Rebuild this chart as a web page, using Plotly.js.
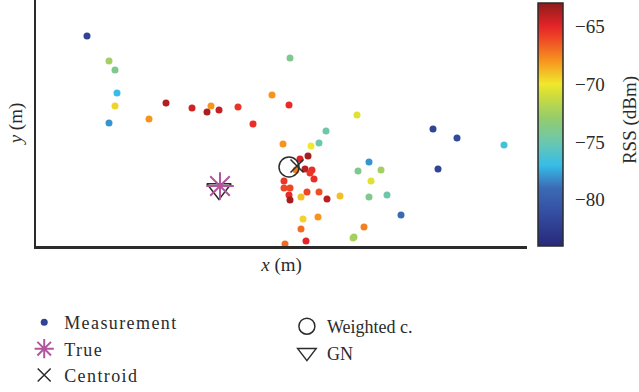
<!DOCTYPE html>
<html>
<head>
<meta charset="utf-8">
<script src="https://cdn.plot.ly/plotly-3.0.1.min.js"></script>
<style>html,body{margin:0;padding:0;background:#fff;}#chart{width:639px;height:392px;}
.legendtext{letter-spacing:1.4px;}</style>
</head>
<body>
<div id="chart"></div>
<script>
// Measurement positions (m) and received signal strength (dBm)
var measX = [5.1, 7.3, 7.9, 8.1, 7.9, 7.3, 11.3, 13.0, 15.6, 17.5, 17.1, 18.3, 20.2, 23.6, 21.7, 25.4, 25.3, 32.1, 29.0, 39.7,
             42.1, 46.8, 24.7, 27.5, 28.3, 26.4, 27.2, 26.9, 27.6, 27.4, 27.8, 26.0, 24.8, 24.8, 25.4, 25.3, 25.4, 26.5, 27.1, 28.3,
             29.1, 30.4, 33.3, 32.2, 34.5, 33.5, 40.2, 33.3, 35.1, 36.5, 26.7, 28.2, 26.5, 32.8, 31.7, 31.8, 24.9, 27.0];
var measY = [21.0, 18.5, 17.6, 15.3, 14.0, 12.3, 12.7, 14.3, 13.8, 14.0, 13.4, 13.6, 13.9, 15.1, 12.2, 18.8, 14.1, 13.1, 11.5, 11.7,
             10.8, 10.1, 10.2, 10.0, 10.3, 8.7, 9.0, 7.7, 7.6, 7.3, 6.7, 7.6, 6.5, 5.8, 5.8, 5.1, 4.6, 4.9, 5.4, 5.4,
             4.7, 5.0, 8.4, 7.5, 7.6, 6.5, 7.7, 4.9, 5.1, 3.1, 2.7, 2.9, 1.7, 1.9, 0.8, 0.9, 0.2, 0.5];
var measRSS = [-82, -72.5, -74, -77, -69.5, -78, -68, -63.8, -64.5, -68, -63.7, -64.2, -65.5, -68, -65.3, -74, -65.2, -70.5, -74.8, -82,
               -81.5, -76.5, -68, -70, -75, -64.8, -63.5, -64, -65.3, -65.5, -65.3, -67.5, -65.5, -66, -66, -65.2, -63.5, -69, -66, -66.2,
               -64, -69, -78, -74, -72.5, -70.5, -82, -74, -74.8, -79, -69.5, -68, -67, -67.5, -72, -72.5, -67, -65];

// Position estimates (m)
var trueX = [18.4], trueY = [6.0];
var centroidX = [26.1], centroidY = [8.0];
var weightedX = [25.3], weightedY = [7.9];
var gnX = [18.3], gnY = [5.7];

// Colour scale (RSS, dBm)
var rssMin = -84, rssMax = -63;
var rssTicks = [-65, -70, -75, -80];
var rssTitle = 'RSS (dBm)';
var scaleStops = [0, 0.143, 0.238, 0.333, 0.429, 0.524, 0.619, 0.667, 0.762, 0.857, 0.905, 1];
var scaleColors = ['#28287a', '#3550a3', '#3b6ab4', '#36bde8', '#6cc7ae', '#93cc6e', '#cfdc3c', '#f0e82c', '#f7941e', '#ee4525', '#e52427', '#8e1b1c'];
var colorscale = scaleStops.map(function (s, i) { return [s, scaleColors[i]]; });

var serif = 'Liberation Serif, Times New Roman, serif';
var ink = '#2b2b2b';

var traces = [
  {
    type: 'scatter', mode: 'markers', name: 'Measurement', legend: 'legend', legendrank: 1,
    x: measX, y: measY,
    marker: {
      size: 7, color: measRSS, cmin: rssMin, cmax: rssMax, colorscale: colorscale, showscale: true,
      colorbar: {
        thickness: 25, len: 243, lenmode: 'pixels', x: 1.0224, xanchor: 'left', xpad: 0,
        y: 0, yanchor: 'bottom', ypad: 0,
        outlinewidth: 1.5, outlinecolor: ink,
        ticks: 'outside', ticklen: 8, tickwidth: 1, tickcolor: 'rgba(0,0,0,0)',
        tickvals: rssTicks, tickfont: {family: serif, size: 19, color: ink}
      }
    }
  },
  {
    type: 'scatter', mode: 'markers', name: 'GN', legend: 'legend2', legendrank: 2,
    x: gnX, y: gnY,
    marker: {symbol: 'triangle-down-open', size: 21, color: ink, line: {width: 1.5, color: ink}}
  },
  {
    type: 'scatter', mode: 'markers', name: 'True', legend: 'legend', legendrank: 2,
    x: trueX, y: trueY,
    marker: {symbol: 'asterisk-open', size: 23, color: '#b4549f', line: {width: 2, color: '#b4549f'}}
  },
  {
    type: 'scatter', mode: 'markers', name: 'Weighted c.', legend: 'legend2', legendrank: 1,
    x: weightedX, y: weightedY,
    marker: {symbol: 'circle-open', size: 20, color: ink, line: {width: 1.5, color: ink}}
  },
  {
    type: 'scatter', mode: 'markers', name: 'Centroid', legend: 'legend', legendrank: 3,
    x: centroidX, y: centroidY,
    marker: {symbol: 'x-thin-open', size: 13, color: ink, line: {width: 1.5, color: ink}}
  }
];

var layout = {
  width: 639, height: 392,
  margin: {l: 36, r: 112, t: 0, b: 146, pad: 0, autoexpand: false},
  paper_bgcolor: '#fff', plot_bgcolor: '#fff',
  font: {family: serif, size: 18, color: ink},
  showlegend: true,
  xaxis: {
    range: [0, 49.1], showline: true, linecolor: ink, linewidth: 2.5, showgrid: false, zeroline: false,
    showticklabels: false, ticks: '', fixedrange: true, automargin: false,
    title: {text: '<i>x</i> (m)', font: {family: serif, size: 19, color: ink}, standoff: 10}
  },
  yaxis: {
    range: [0, 24.6], showline: true, linecolor: ink, linewidth: 2.5, showgrid: false, zeroline: false,
    showticklabels: false, ticks: '', fixedrange: true, automargin: false,
    title: {text: '<i>y</i> (m)', font: {family: serif, size: 19, color: ink}, standoff: 6}
  },
  legend: {
    x: -0.024, xanchor: 'left', y: -0.236, yanchor: 'top', bgcolor: 'rgba(0,0,0,0)', borderwidth: 0,
    font: {family: serif, size: 18, color: ink}, traceorder: 'normal'
  },
  legend2: {
    x: 0.511, xanchor: 'left', y: -0.252, yanchor: 'top', bgcolor: 'rgba(0,0,0,0)', borderwidth: 0,
    font: {family: serif, size: 18, color: ink}, traceorder: 'normal'
  },
  annotations: [{
    text: rssTitle, xref: 'paper', yref: 'paper', x: 1.2098, y: 0.512,
    xanchor: 'center', yanchor: 'middle', textangle: -90, showarrow: false,
    font: {family: serif, size: 19, color: ink}
  }]
};

Plotly.newPlot('chart', traces, layout, {staticPlot: true, displayModeBar: false});
</script>
</body>
</html>
